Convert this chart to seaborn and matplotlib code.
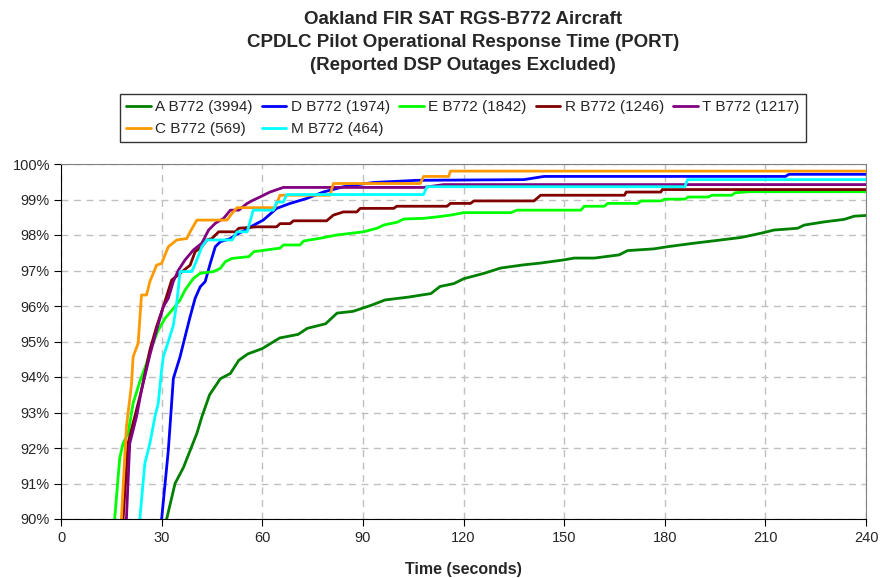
import matplotlib
matplotlib.use("Agg")
import matplotlib.pyplot as plt
import pandas as pd
import seaborn as sns

# PORT curves (time in seconds, cumulative %)
a_t = [31.5, 34, 36.5, 40.5, 42, 44.3, 47.5, 50.5, 53, 55.7, 60, 65.2, 70.7, 73.4, 78.9, 82.3,
       87.1, 92.5, 96.6, 103.5, 110.3, 113, 117.1, 120.1, 126.1, 131.1, 138, 143, 150, 153, 159,
       166.4, 168.9, 176.8, 180.8, 188.8, 196.7, 202.7, 208.7, 212.6, 219.6, 221.6, 227.6, 233.5,
       236.5, 240]
a_v = [90.0, 91.0, 91.45, 92.41, 92.88, 93.5, 93.95, 94.1, 94.47, 94.65, 94.8, 95.1, 95.2, 95.37,
       95.5, 95.8, 95.85, 96.02, 96.17, 96.25, 96.35, 96.55, 96.63, 96.77, 96.92, 97.07, 97.16,
       97.21, 97.3, 97.35, 97.35, 97.44, 97.56, 97.61, 97.67, 97.77, 97.86, 97.93, 98.05, 98.14,
       98.19, 98.28, 98.37, 98.44, 98.53, 98.55]

d_t = [30, 32, 33.5, 35.5, 37, 38.5, 40, 41.5, 43, 44.5, 46, 47.5, 50.5, 52, 55, 57.5, 60.3, 64.3,
       68.3, 73.3, 78.2, 84.2, 93.2, 106.1, 138, 144, 216, 217, 240]
d_v = [90, 91.94, 93.96, 94.57, 95.14, 95.7, 96.22, 96.54, 96.69, 97.2, 97.67, 97.81, 97.9, 98.0,
       98.14, 98.28, 98.42, 98.75, 98.89, 99.03, 99.21, 99.36, 99.48, 99.54, 99.56, 99.65, 99.65,
       99.71, 99.71]

e_t = [16, 17.5, 18.5, 20, 21.5, 23.5, 25.5, 27, 29, 31, 33.5, 35.5, 37, 39.5, 41.5, 45.5, 47.5,
       49, 51, 56, 57.5, 61.3, 65.3, 66.3, 71.3, 72.3, 77.3, 82.2, 90.2, 94.2, 96.2, 100.2, 102.2,
       108.1, 112.1, 116.1, 120.1, 134.1, 136, 155, 156, 162, 163, 172, 173, 179, 180, 186, 187,
       193, 194, 200, 201, 205, 240]
e_v = [90, 91.71, 92.13, 92.41, 93.26, 93.87, 94.38, 94.85, 95.32, 95.65, 95.93, 96.17, 96.45,
       96.78, 96.92, 96.97, 97.06, 97.25, 97.34, 97.39, 97.53, 97.58, 97.63, 97.72, 97.72, 97.83,
       97.91, 98.0, 98.09, 98.19, 98.28, 98.36, 98.45, 98.47, 98.51, 98.56, 98.63, 98.63, 98.7,
       98.7, 98.81, 98.81, 98.89, 98.89, 98.96, 98.96, 99.01, 99.01, 99.07, 99.07, 99.12, 99.12,
       99.19, 99.22, 99.22]

r_t = [18.5, 20, 21.5, 24, 26.5, 28.5, 30.5, 33, 35.5, 38.5, 40, 42, 43.5, 45, 47, 52, 53, 58.3,
       64.3, 65.3, 68.3, 69.3, 79.2, 81.2, 84.2, 88.2, 89.2, 99.2, 100.1, 115.1, 116.1, 122.1,
       123.1, 141, 143, 168, 168.5, 178.8, 179.3, 240]
r_v = [90, 92.13, 92.7, 93.63, 94.76, 95.42, 95.98, 96.73, 96.92, 97.15, 97.53, 97.67, 97.86, 97.9,
       98.09, 98.09, 98.19, 98.23, 98.23, 98.32, 98.32, 98.4, 98.4, 98.56, 98.65, 98.65, 98.75,
       98.75, 98.81, 98.81, 98.89, 98.89, 98.96, 98.96, 99.12, 99.12, 99.21, 99.21, 99.28, 99.28]

t_t = [19.5, 20.5, 22.5, 24, 26.5, 28.5, 30.5, 32, 33.5, 35, 37, 39.5, 42, 44, 46, 48.5, 50.5, 53,
       55.5, 57.5, 59.3, 62.3, 66.3, 108.1, 114.1, 240]
t_v = [90, 92.13, 92.88, 93.63, 94.62, 95.32, 95.98, 96.22, 96.69, 97.01, 97.3, 97.58, 97.77,
       98.14, 98.33, 98.47, 98.7, 98.7, 98.89, 98.99, 99.07, 99.21, 99.34, 99.34, 99.42, 99.42]

c_t = [18, 19.5, 21, 21.5, 23, 24, 25.5, 26.5, 28.5, 30, 32, 34.5, 37.5, 38.5, 40.5, 49.5, 51,
       52.5, 63.8, 65.3, 80.2, 81.2, 107.1, 108.1, 115.6, 116.1, 240]
c_v = [90, 92.6, 93.77, 94.57, 94.95, 96.31, 96.31, 96.69, 97.15, 97.2, 97.67, 97.86, 97.9, 98.09,
       98.42, 98.42, 98.61, 98.77, 98.77, 99.12, 99.12, 99.45, 99.45, 99.65, 99.65, 99.8, 99.8]

m_t = [23.5, 25, 26.5, 28, 29, 30, 30.5, 32, 33.5, 34.5, 35.5, 39, 40.5, 42, 43.5, 51, 52.5, 55.5,
       56.5, 57.3, 63.3, 64.3, 66.3, 67.3, 108.1, 109.1, 186, 186.8, 240]
m_v = [90, 91.57, 92.13, 92.88, 93.26, 94.2, 94.57, 95.0, 95.46, 96.08, 96.97, 96.97, 97.3, 97.67,
       97.86, 97.86, 98.09, 98.09, 98.42, 98.7, 98.7, 98.93, 98.93, 99.14, 99.14, 99.36, 99.36,
       99.56, 99.56]

labels = ["A B772 (3994)", "D B772 (1974)", "E B772 (1842)", "R B772 (1246)",
          "T B772 (1217)", "C B772 (569)", "M B772 (464)"]
colors = ["#008000", "#0000FF", "#00FF00", "#800000", "#800080", "#FF9900", "#00FFFF"]
series = [(a_t, a_v), (d_t, d_v), (e_t, e_v), (r_t, r_v), (t_t, t_v), (c_t, c_v), (m_t, m_v)]

rows = []
for lab, (ts, vs) in zip(labels, series):
    for t, v in zip(ts, vs):
        rows.append({"serie": lab, "tid": t, "port": v})
df = pd.DataFrame(rows)

sns.set_style("white")
plt.rcParams["font.family"] = ["Liberation Sans", "DejaVu Sans"]

fig = plt.figure(figsize=(8.8, 5.78), dpi=100)
ax = fig.add_axes([61 / 880, 1 - 519 / 578, (866 - 61) / 880, (519 - 164) / 578])

sns.lineplot(data=df, x="tid", y="port", hue="serie", hue_order=labels,
             palette=dict(zip(labels, colors)), estimator=None, units="serie",
             sort=False, lw=2, ax=ax, legend=True)

ax.set_xlim(0, 240)
ax.set_ylim(90, 100)
ax.set_xticks(range(0, 241, 30))
ax.set_yticks(range(90, 101))
ax.set_yticklabels([f"{y}%" for y in range(90, 101)])
ax.grid(True, color="#c0c0c0", linestyle=(0, (5, 4)), lw=1)
ax.set_axisbelow(True)
for s in ["top", "right"]:
    ax.spines[s].set_color("#808080")
for s in ["bottom", "left"]:
    ax.spines[s].set_color("black")
ax.tick_params(axis="x", length=5, direction="out", color="black", labelsize=10.5, bottom=True, pad=4)
ax.tick_params(axis="y", length=5, direction="out", color="black", labelsize=10.5, left=True, pad=3)
ax.set_xlabel("Time (seconds)", fontsize=11.5, fontweight="bold", labelpad=12)
ax.set_ylabel("")

# Excel fills the legend row by row, matplotlib column by column
ax.legend_.remove()
handles, labs = ax.get_legend_handles_labels()
order = [0, 5, 1, 6, 2, 3, 4]
leg = fig.legend([handles[i] for i in order], [labs[i] for i in order], ncol=5,
                 loc="upper center", bbox_to_anchor=(0.526, 0.837),
                 frameon=True, fancybox=False, fontsize=11, handlelength=1.6,
                 handletextpad=0.3, columnspacing=0.6, borderpad=0.4, labelspacing=0.5,
                 borderaxespad=0)
leg.get_frame().set_edgecolor("black")
leg.get_frame().set_linewidth(1)

fig.text(0.526, 0.981, "Oakland FIR SAT RGS-B772 Aircraft\nCPDLC Pilot Operational Response Time (PORT)\n(Reported DSP Outages Excluded)",
         ha="center", va="top", fontsize=13.5, fontweight="bold", linespacing=1.45)

fig.savefig("out.png", dpi=100)
